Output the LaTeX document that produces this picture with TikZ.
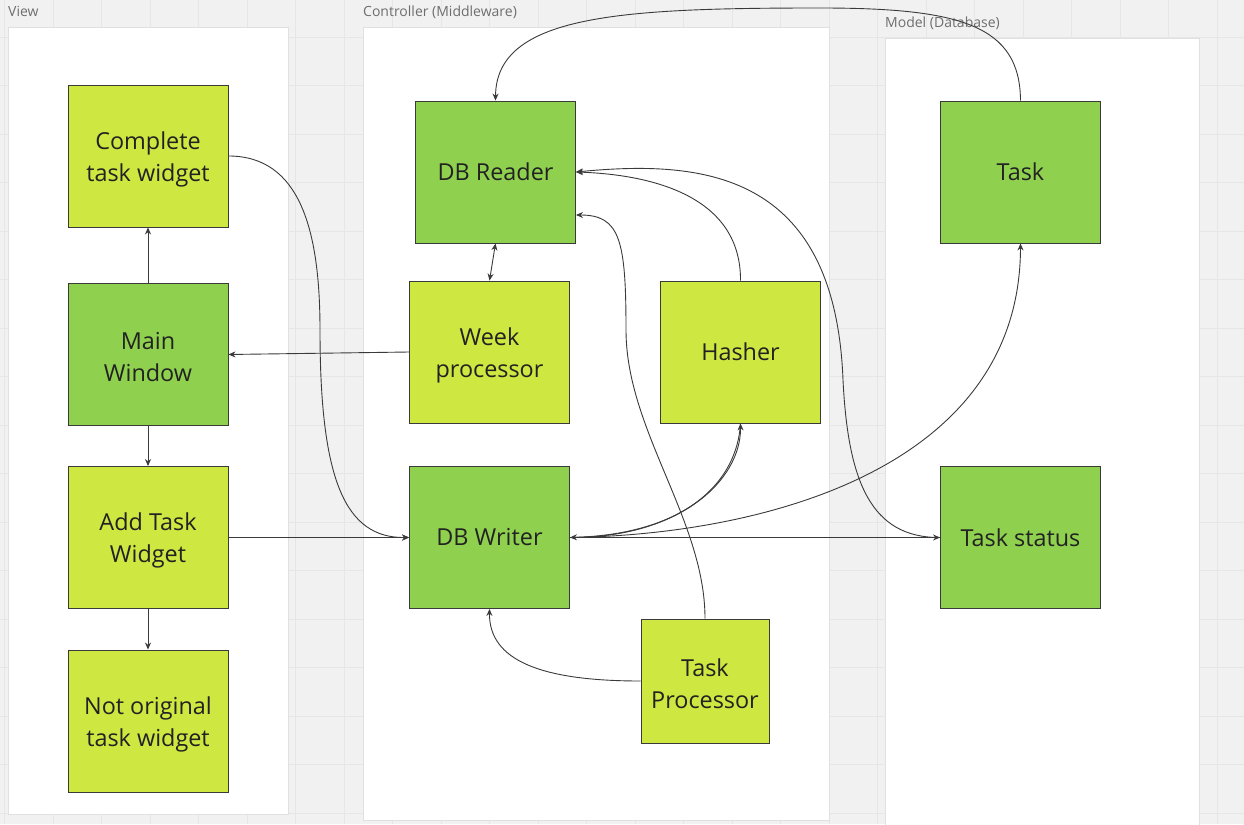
\documentclass[tikz,border=0pt]{standalone}
\usepackage{fontspec}
\setmainfont{Open Sans}
\usetikzlibrary{arrows.meta,calc}
\definecolor{bg}{HTML}{F1F1F1}
\definecolor{gridc}{HTML}{E6E6E6}
\definecolor{panelborder}{HTML}{E0E0E0}
\definecolor{lightg}{HTML}{CEE741}
\definecolor{darkg}{HTML}{8FD14F}
\definecolor{nodeborder}{HTML}{3A3A3A}
\definecolor{linec}{HTML}{3A3A3A}
\definecolor{txt}{HTML}{222222}
\definecolor{labelc}{HTML}{6E6E6E}
\begin{document}
\begin{tikzpicture}[x=1pt,y=-1pt,
  box/.style={draw=nodeborder, line width=0.9pt, minimum width=160pt, minimum height=142pt, inner sep=0pt, align=center, text=txt, font=\fontsize{23.4}{32}\selectfont},
  lite/.style={box, fill=lightg},
  dark/.style={box, fill=darkg},
  txtl/.style={align=center, text=txt, font=\fontsize{23.4}{32}\selectfont, inner sep=0pt, yshift=-3pt},
  panel/.style={fill=white, draw=panelborder, line width=0.8pt},
  plabel/.style={anchor=base west, text=labelc, font=\fontsize{14}{16}\selectfont, inner sep=0pt},
  conn/.style={draw=linec, line width=0.9pt},
  arr/.style={conn, -{Stealth[length=7pt,width=6pt]}},
  darr/.style={conn, {Stealth[length=7pt,width=6pt]}-{Stealth[length=7pt,width=6pt]}},
]
\useasboundingbox (0,0) rectangle (1244,824);
\fill[bg] (0,0) rectangle (1244,824);
\foreach \i in {0,...,25} \draw[gridc, line width=0.8pt] ({4.5+48.5*\i},0) -- ({4.5+48.5*\i},824);
\foreach \j in {0,...,16} \draw[gridc, line width=0.8pt] (0,{37+48.5*\j}) -- (1244,{37+48.5*\j});

% panels
\path[panel] (8,27) rectangle (288,814);
\path[panel] (363,27) rectangle (829,820);
\path[panel] (885,38) rectangle (1199,830);
\node[plabel] (lview) at (8,17) {View};
\node[plabel] (lctrl) at (363,17) {Controller (Middleware)};
\node[plabel] (lmodel) at (885,28) {Model (Database)};

% nodes
\node[lite, label={[txtl]center:Complete\\task widget}] (ctw) at (148,156) {};
\node[dark, label={[txtl]center:Main\\Window}] (mw) at (148,354.5) {};
\node[lite, label={[txtl]center:Add Task\\Widget}] (atw) at (148,537.5) {};
\node[lite, label={[txtl]center:Not original\\task widget}] (notw) at (148,721) {};
\node[dark] (dbr) at (495.5,172) {DB Reader};
\node[lite, label={[txtl]center:Week\\processor}] (wp) at (489.5,352) {};
\node[lite] (hash) at (740.5,352) {Hasher};
\node[dark] (dbw) at (489.5,537.5) {DB Writer};
\node[lite, minimum width=128pt, minimum height=124pt, label={[txtl]center:Task\\Processor}] (tp) at (705,681) {};
\node[dark] (task) at (1020.5,172) {Task};
\node[dark] (ts) at (1020.5,537.5) {Task status};

\coordinate (dbrlow) at ($(dbr.east)+(0,43)$);

% connectors
\draw[arr] (mw.north) -- (ctw.south);
\draw[arr] (mw.south) -- (atw.north);
\draw[arr] (atw.south) -- (notw.north);
\draw[arr] (atw.east) -- (dbw.west);
\draw[arr] (ctw.east) .. controls (300,156) and (320,230) .. (320,330) .. controls (320,480) and (345,538) .. (dbw.west);
\draw[arr] (wp.west) -- (mw.east);
\draw[darr] (dbr.south) -- (wp.north);
\draw[arr] (task.north) .. controls (1020,25) and (960,8) .. (820,8) .. controls (620,8) and (496,15) .. (dbr.north);
\draw[arr] (hash.north) .. controls (741,200) and (660,175) .. (dbr.east);
\draw[arr] (ts.west) .. controls (870,538) and (848,480) .. (843,380) .. controls (835,170) and (700,160) .. (dbr.east);
\draw[arr] (tp.north) .. controls (705,520) and (626,430) .. (626,330) .. controls (626,240) and (620,215) .. (dbrlow);
\draw[arr] (tp.west) .. controls (540,681) and (489,660) .. (dbw.south);
\draw[arr] (dbw.east) .. controls (680,538) and (741,480) .. (hash.south);
\draw[arr] (hash.south) .. controls (737,482) and (686,534) .. (dbw.east);
\draw[arr] (dbw.east) .. controls (760,535) and (1020,470) .. (task.south);
\draw[arr] (dbw.east) -- (ts.west);
\end{tikzpicture}
\end{document}
